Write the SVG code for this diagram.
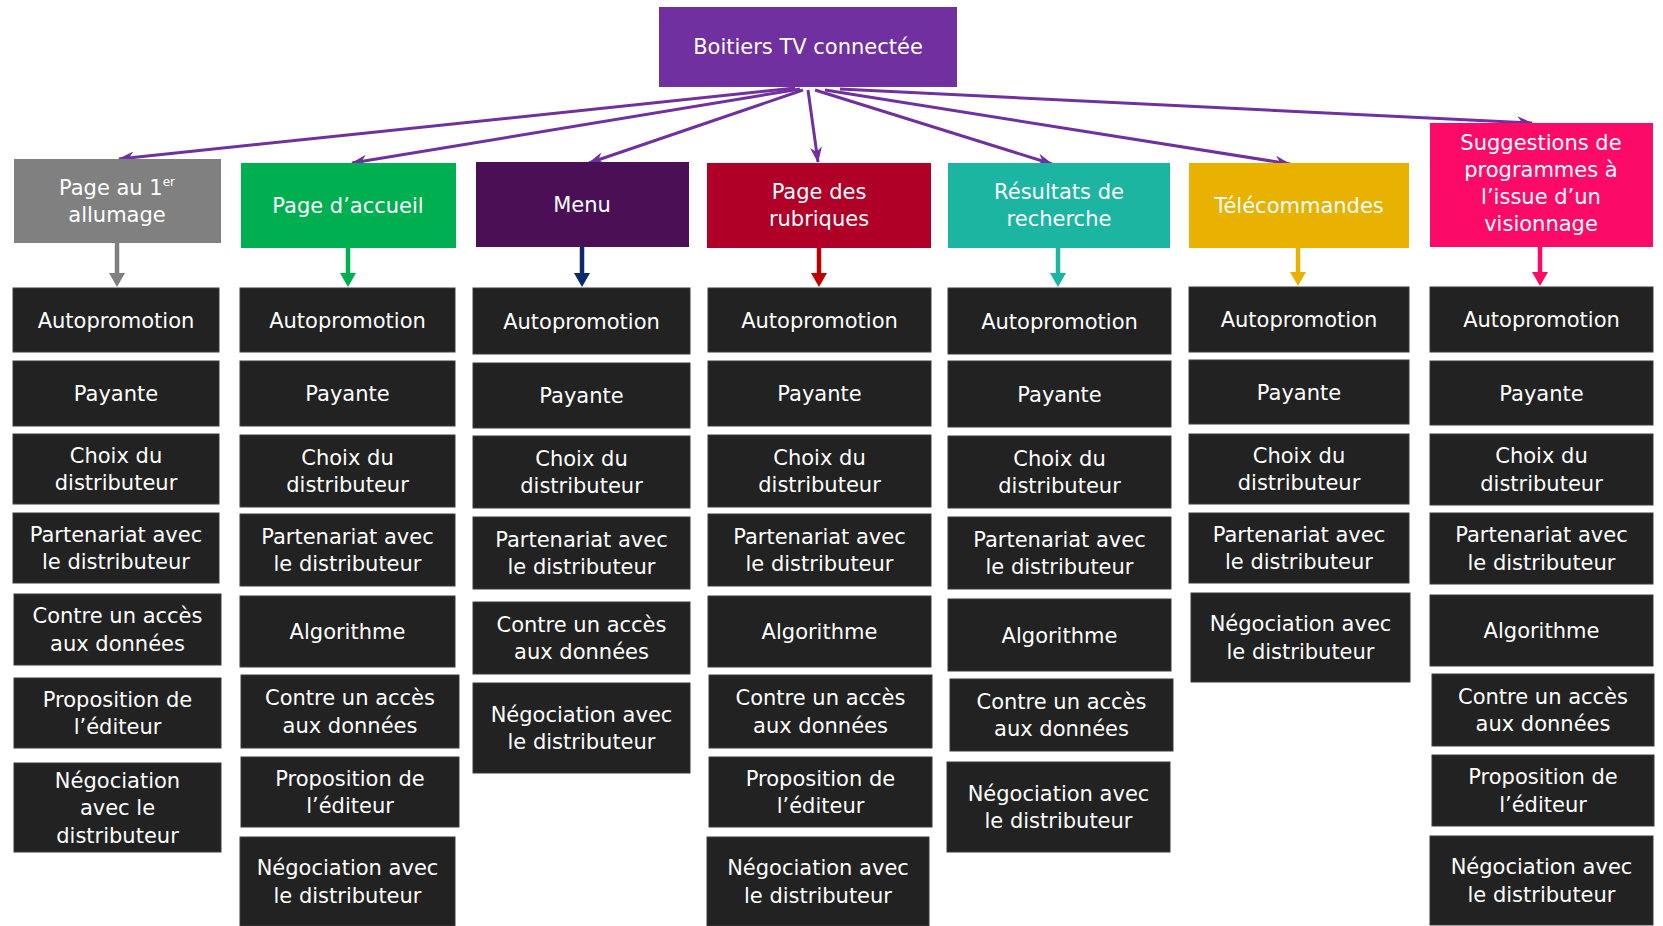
<svg xmlns="http://www.w3.org/2000/svg" width="1663" height="926" viewBox="0 0 1663 926">
<style>
text{font-family:"DejaVu Sans","Liberation Sans",sans-serif;font-size:21px;fill:#ffffff;text-anchor:middle}
.b{fill:#222222;stroke:#3a3a3a;stroke-width:1}
.p{stroke:#7030a0;stroke-width:3;fill:none;marker-end:url(#mp)}
.d{stroke-width:4.5;fill:none}
</style>
<defs>
<marker id="mp" markerUnits="userSpaceOnUse" viewBox="0 0 16 12" markerWidth="16" markerHeight="12" refX="15" refY="6" orient="auto"><path d="M0,0 L16,6 L0,12 L5,6 z" fill="#7030a0"/></marker>
<marker id="m1" markerUnits="userSpaceOnUse" viewBox="0 0 14 16" markerWidth="14" markerHeight="16" refX="3" refY="8" orient="auto"><path d="M0,0 L14,8 L0,16 z" fill="#808080"/></marker>
<marker id="m2" markerUnits="userSpaceOnUse" viewBox="0 0 14 16" markerWidth="14" markerHeight="16" refX="3" refY="8" orient="auto"><path d="M0,0 L14,8 L0,16 z" fill="#00b050"/></marker>
<marker id="m3" markerUnits="userSpaceOnUse" viewBox="0 0 14 16" markerWidth="14" markerHeight="16" refX="3" refY="8" orient="auto"><path d="M0,0 L14,8 L0,16 z" fill="#0b2a6b"/></marker>
<marker id="m4" markerUnits="userSpaceOnUse" viewBox="0 0 14 16" markerWidth="14" markerHeight="16" refX="3" refY="8" orient="auto"><path d="M0,0 L14,8 L0,16 z" fill="#c00000"/></marker>
<marker id="m5" markerUnits="userSpaceOnUse" viewBox="0 0 14 16" markerWidth="14" markerHeight="16" refX="3" refY="8" orient="auto"><path d="M0,0 L14,8 L0,16 z" fill="#1bb5a1"/></marker>
<marker id="m6" markerUnits="userSpaceOnUse" viewBox="0 0 14 16" markerWidth="14" markerHeight="16" refX="3" refY="8" orient="auto"><path d="M0,0 L14,8 L0,16 z" fill="#e9b100"/></marker>
<marker id="m7" markerUnits="userSpaceOnUse" viewBox="0 0 14 16" markerWidth="14" markerHeight="16" refX="3" refY="8" orient="auto"><path d="M0,0 L14,8 L0,16 z" fill="#fb0a68"/></marker>
</defs>
<rect width="1663" height="926" fill="#ffffff"/>

<g id="connectors">
<line class="p" x1="795" y1="88" x2="119" y2="159"/>
<line class="p" x1="800" y1="89" x2="352" y2="163"/>
<line class="p" x1="803" y1="90" x2="589" y2="163"/>
<line class="p" x1="808" y1="90" x2="818" y2="162"/>
<line class="p" x1="815" y1="90" x2="1052" y2="164"/>
<line class="p" x1="825" y1="90" x2="1290" y2="164"/>
<line class="p" x1="840" y1="89" x2="1532" y2="123"/>
<line class="d" stroke="#808080" marker-end="url(#m1)" x1="117" y1="243" x2="117" y2="276"/>
<line class="d" stroke="#00b050" marker-end="url(#m2)" x1="348" y1="248" x2="348" y2="276"/>
<line class="d" stroke="#0b2a6b" marker-end="url(#m3)" x1="582" y1="247" x2="582" y2="276"/>
<line class="d" stroke="#c00000" marker-end="url(#m4)" x1="819" y1="248" x2="819" y2="276"/>
<line class="d" stroke="#1bb5a1" marker-end="url(#m5)" x1="1058" y1="248" x2="1058" y2="276"/>
<line class="d" stroke="#e9b100" marker-end="url(#m6)" x1="1298" y1="248" x2="1298" y2="275"/>
<line class="d" stroke="#fb0a68" marker-end="url(#m7)" x1="1540" y1="247" x2="1540" y2="275"/>
</g>

<g id="root"><rect x="659" y="7" width="298" height="80" fill="#7030a0"/><text x="808" y="54">Boitiers TV connectée</text></g>

<g id="h1"><rect x="14" y="159" width="207" height="84" fill="#808080"/><text x="117" y="195">Page au 1<tspan font-size="12" dy="-9">er</tspan></text><text x="117" y="222">allumage</text></g>
<g id="h2"><rect x="241" y="163" width="215" height="85" fill="#00b050"/><text x="348" y="213">Page d’accueil</text></g>
<g id="h3"><rect x="476" y="162" width="213" height="85" fill="#4b0f56"/><text x="582" y="212">Menu</text></g>
<g id="h4"><rect x="707" y="163" width="224" height="85" fill="#b00028"/><text x="819" y="199">Page des</text><text x="819" y="226">rubriques</text></g>
<g id="h5"><rect x="948" y="163" width="222" height="85" fill="#1bb5a1"/><text x="1059" y="199">Résultats de</text><text x="1059" y="226">recherche</text></g>
<g id="h6"><rect x="1189" y="163" width="220" height="85" fill="#e9b100"/><text x="1299" y="213">Télécommandes</text></g>
<g id="h7"><rect x="1430" y="123" width="223" height="124" fill="#fb0a68"/><text x="1541" y="150">Suggestions de</text><text x="1541" y="177">programmes à</text><text x="1541" y="204">l’issue d’un</text><text x="1541" y="231">visionnage</text></g>

<g id="c1a"><rect class="b" x="13" y="288" width="206" height="64"/><text x="116" y="327.5">Autopromotion</text></g>
<g id="c1b"><rect class="b" x="13" y="361" width="206" height="65"/><text x="116" y="401">Payante</text></g>
<g id="c1c"><rect class="b" x="13" y="434" width="206" height="70"/><text x="116" y="462.75">Choix du</text><text x="116" y="490.25">distributeur</text></g>
<g id="c1d"><rect class="b" x="13" y="513" width="206" height="70"/><text x="116" y="541.75">Partenariat avec</text><text x="116" y="569.25">le distributeur</text></g>
<g id="c1e"><rect class="b" x="14" y="594" width="207" height="71"/><text x="117.5" y="623.25">Contre un accès</text><text x="117.5" y="650.75">aux données</text></g>
<g id="c1f"><rect class="b" x="14" y="678" width="207" height="70"/><text x="117.5" y="706.75">Proposition de</text><text x="117.5" y="734.25">l’éditeur</text></g>
<g id="c1g"><rect class="b" x="14" y="763" width="207" height="89"/><text x="117.5" y="787.5">Négociation</text><text x="117.5" y="815">avec le</text><text x="117.5" y="842.5">distributeur</text></g>

<g id="c2a"><rect class="b" x="240" y="288" width="215" height="64"/><text x="347.5" y="327.5">Autopromotion</text></g>
<g id="c2b"><rect class="b" x="240" y="361" width="215" height="65"/><text x="347.5" y="401">Payante</text></g>
<g id="c2c"><rect class="b" x="240" y="435" width="215" height="72"/><text x="347.5" y="464.75">Choix du</text><text x="347.5" y="492.25">distributeur</text></g>
<g id="c2d"><rect class="b" x="240" y="514" width="215" height="72"/><text x="347.5" y="543.75">Partenariat avec</text><text x="347.5" y="571.25">le distributeur</text></g>
<g id="c2e"><rect class="b" x="240" y="596" width="215" height="71"/><text x="347.5" y="639">Algorithme</text></g>
<g id="c2f"><rect class="b" x="241" y="675" width="218" height="73"/><text x="350" y="705.25">Contre un accès</text><text x="350" y="732.75">aux données</text></g>
<g id="c2g"><rect class="b" x="241" y="757" width="218" height="70"/><text x="350" y="785.75">Proposition de</text><text x="350" y="813.25">l’éditeur</text></g>
<g id="c2h"><rect class="b" x="240" y="837" width="215" height="89"/><text x="347.5" y="875.25">Négociation avec</text><text x="347.5" y="902.75">le distributeur</text></g>

<g id="c3a"><rect class="b" x="473" y="288" width="217" height="66"/><text x="581.5" y="328.5">Autopromotion</text></g>
<g id="c3b"><rect class="b" x="473" y="363" width="217" height="65"/><text x="581.5" y="403">Payante</text></g>
<g id="c3c"><rect class="b" x="473" y="436" width="217" height="72"/><text x="581.5" y="465.75">Choix du</text><text x="581.5" y="493.25">distributeur</text></g>
<g id="c3d"><rect class="b" x="473" y="517" width="217" height="72"/><text x="581.5" y="546.75">Partenariat avec</text><text x="581.5" y="574.25">le distributeur</text></g>
<g id="c3e"><rect class="b" x="473" y="602" width="217" height="72"/><text x="581.5" y="631.75">Contre un accès</text><text x="581.5" y="659.25">aux données</text></g>
<g id="c3f"><rect class="b" x="473" y="683" width="217" height="90"/><text x="581.5" y="721.75">Négociation avec</text><text x="581.5" y="749.25">le distributeur</text></g>

<g id="c4a"><rect class="b" x="708" y="288" width="223" height="64"/><text x="819.5" y="327.5">Autopromotion</text></g>
<g id="c4b"><rect class="b" x="708" y="361" width="223" height="65"/><text x="819.5" y="401">Payante</text></g>
<g id="c4c"><rect class="b" x="708" y="435" width="223" height="72"/><text x="819.5" y="464.75">Choix du</text><text x="819.5" y="492.25">distributeur</text></g>
<g id="c4d"><rect class="b" x="708" y="514" width="223" height="72"/><text x="819.5" y="543.75">Partenariat avec</text><text x="819.5" y="571.25">le distributeur</text></g>
<g id="c4e"><rect class="b" x="708" y="596" width="223" height="71"/><text x="819.5" y="639">Algorithme</text></g>
<g id="c4f"><rect class="b" x="709" y="675" width="223" height="73"/><text x="820.5" y="705.25">Contre un accès</text><text x="820.5" y="732.75">aux données</text></g>
<g id="c4g"><rect class="b" x="709" y="757" width="223" height="70"/><text x="820.5" y="785.75">Proposition de</text><text x="820.5" y="813.25">l’éditeur</text></g>
<g id="c4h"><rect class="b" x="707" y="837" width="222" height="89"/><text x="818" y="875.25">Négociation avec</text><text x="818" y="902.75">le distributeur</text></g>

<g id="c5a"><rect class="b" x="948" y="288" width="223" height="66"/><text x="1059.5" y="328.5">Autopromotion</text></g>
<g id="c5b"><rect class="b" x="948" y="361" width="223" height="66"/><text x="1059.5" y="401.5">Payante</text></g>
<g id="c5c"><rect class="b" x="948" y="436" width="223" height="72"/><text x="1059.5" y="465.75">Choix du</text><text x="1059.5" y="493.25">distributeur</text></g>
<g id="c5d"><rect class="b" x="948" y="517" width="223" height="72"/><text x="1059.5" y="546.75">Partenariat avec</text><text x="1059.5" y="574.25">le distributeur</text></g>
<g id="c5e"><rect class="b" x="948" y="599" width="223" height="72"/><text x="1059.5" y="642.5">Algorithme</text></g>
<g id="c5f"><rect class="b" x="950" y="679" width="223" height="72"/><text x="1061.5" y="708.75">Contre un accès</text><text x="1061.5" y="736.25">aux données</text></g>
<g id="c5g"><rect class="b" x="947" y="762" width="223" height="90"/><text x="1058.5" y="800.75">Négociation avec</text><text x="1058.5" y="828.25">le distributeur</text></g>

<g id="c6a"><rect class="b" x="1189" y="287" width="220" height="65"/><text x="1299" y="327">Autopromotion</text></g>
<g id="c6b"><rect class="b" x="1189" y="360" width="220" height="64"/><text x="1299" y="399.5">Payante</text></g>
<g id="c6c"><rect class="b" x="1189" y="434" width="220" height="70"/><text x="1299" y="462.75">Choix du</text><text x="1299" y="490.25">distributeur</text></g>
<g id="c6d"><rect class="b" x="1189" y="513" width="220" height="70"/><text x="1299" y="541.75">Partenariat avec</text><text x="1299" y="569.25">le distributeur</text></g>
<g id="c6e"><rect class="b" x="1191" y="593" width="219" height="89"/><text x="1300.5" y="631.25">Négociation avec</text><text x="1300.5" y="658.75">le distributeur</text></g>

<g id="c7a"><rect class="b" x="1430" y="287" width="223" height="65"/><text x="1541.5" y="327">Autopromotion</text></g>
<g id="c7b"><rect class="b" x="1430" y="361" width="223" height="64"/><text x="1541.5" y="400.5">Payante</text></g>
<g id="c7c"><rect class="b" x="1430" y="434" width="223" height="71"/><text x="1541.5" y="463.25">Choix du</text><text x="1541.5" y="490.75">distributeur</text></g>
<g id="c7d"><rect class="b" x="1430" y="513" width="223" height="71"/><text x="1541.5" y="542.25">Partenariat avec</text><text x="1541.5" y="569.75">le distributeur</text></g>
<g id="c7e"><rect class="b" x="1430" y="595" width="223" height="71"/><text x="1541.5" y="638">Algorithme</text></g>
<g id="c7f"><rect class="b" x="1432" y="674" width="222" height="72"/><text x="1543" y="703.75">Contre un accès</text><text x="1543" y="731.25">aux données</text></g>
<g id="c7g"><rect class="b" x="1432" y="755" width="222" height="71"/><text x="1543" y="784.25">Proposition de</text><text x="1543" y="811.75">l’éditeur</text></g>
<g id="c7h"><rect class="b" x="1430" y="836" width="223" height="89"/><text x="1541.5" y="874.25">Négociation avec</text><text x="1541.5" y="901.75">le distributeur</text></g>
</svg>
